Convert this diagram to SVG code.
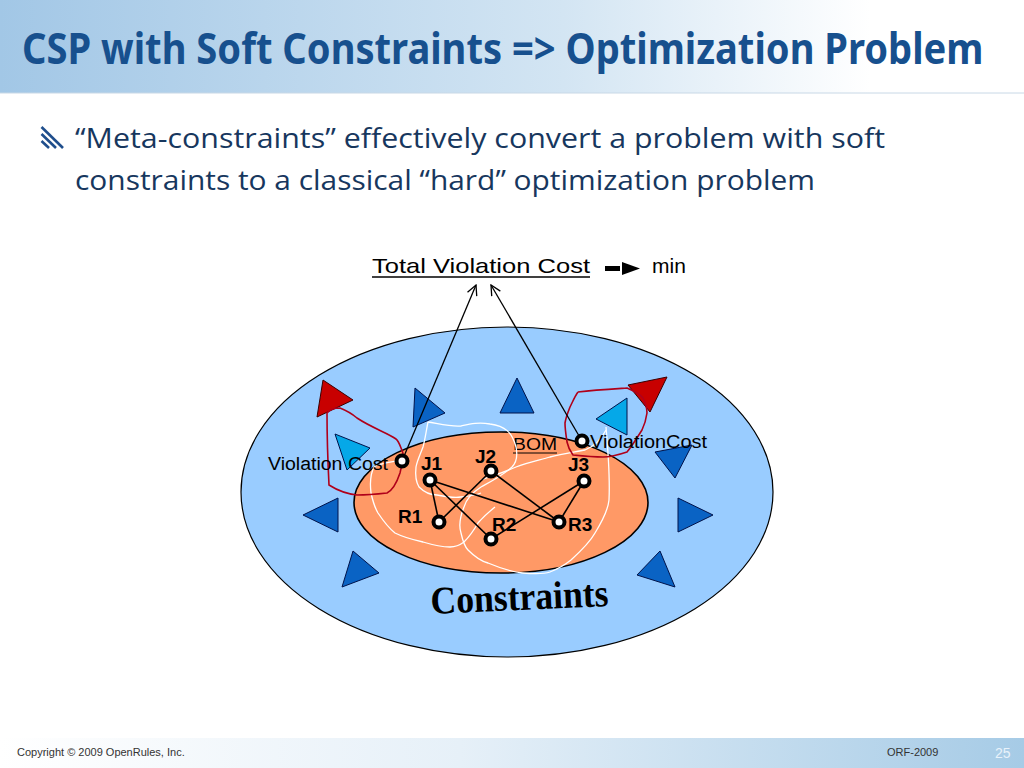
<svg xmlns="http://www.w3.org/2000/svg" width="1024" height="768" viewBox="0 0 1024 768">
<defs>
<linearGradient id="hdr" x1="0" y1="0" x2="1" y2="0">
<stop offset="0" stop-color="#a2c7e6"/>
<stop offset="0.55" stop-color="#d3e5f3"/>
<stop offset="0.85" stop-color="#ffffff"/>
</linearGradient>
<linearGradient id="ftr" x1="0" y1="0" x2="1" y2="0">
<stop offset="0" stop-color="#ffffff"/>
<stop offset="0.45" stop-color="#e6f0f8"/>
<stop offset="1" stop-color="#a6cbe6"/>
</linearGradient>
<marker id="open" viewBox="0 0 12 12" refX="11" refY="6" markerWidth="12" markerHeight="12" markerUnits="userSpaceOnUse" orient="auto">
<polyline points="1,1 11,6 1,11" fill="none" stroke="#000" stroke-width="1.3"/>
</marker>
</defs>
<style>
.dk{fill:#0a63c4;stroke:#00124a;stroke-width:1}
.lt{fill:#05a8e8;stroke:#00124a;stroke-width:1}
.rd{fill:#c80000;stroke:#3a0000;stroke-width:1}
.red{fill:none;stroke:#b0001a;stroke-width:1.6}
.wh{fill:none;stroke:#ffffff;stroke-width:1.3}
.edge{stroke:#000;stroke-width:1.6;fill:none}
.node{fill:#fff;stroke:#000;stroke-width:4}
.lbl{font-family:"Liberation Sans",Arial,sans-serif;font-weight:bold;font-size:19px;fill:#000}
.vc{font-family:"Liberation Sans",Arial,sans-serif;font-size:18px;fill:#000}
.bul{font-family:"Open Sans","Noto Sans",sans-serif;font-size:27px;fill:#17375e}
</style>
<rect width="1024" height="768" fill="#fff"/>
<rect x="0" y="0" width="1024" height="93" fill="url(#hdr)"/>
<line x1="0" y1="93" x2="1024" y2="93" stroke="#c8d8e6" stroke-width="1"/>
<g transform="translate(22,64) scale(0.86,1)">
<text x="0" y="0" font-family="'Noto Sans','Open Sans',sans-serif" font-weight="bold" font-size="43" fill="#17508e" textLength="1118" lengthAdjust="spacingAndGlyphs">CSP with Soft Constraints =&gt; Optimization Problem</text>
</g>
<g id="bullet" stroke="#1f4e8c" stroke-width="2.6" stroke-linecap="butt">
<line x1="41.5" y1="127" x2="63" y2="148"/>
<line x1="41.5" y1="134" x2="56" y2="148"/>
<line x1="41.5" y1="141" x2="49" y2="148"/>
</g>
<text class="bul" x="75" y="148" textLength="810" lengthAdjust="spacingAndGlyphs">“Meta-constraints” effectively convert a problem with soft</text>
<text class="bul" x="75" y="190" textLength="740" lengthAdjust="spacingAndGlyphs">constraints to a classical “hard” optimization problem</text>
<g id="total">
<text x="372" y="273" font-family="'Liberation Sans',Arial,sans-serif" font-size="21" fill="#000" textLength="218" lengthAdjust="spacingAndGlyphs">Total Violation Cost</text>
<line x1="372" y1="277" x2="590" y2="277" stroke="#000" stroke-width="1.3"/>
<rect x="605" y="266" width="15" height="5" fill="#000"/>
<polygon points="622,262 640,268.5 622,275" fill="#000"/>
<text x="652" y="273" font-family="'Liberation Sans',Arial,sans-serif" font-size="21" fill="#000">min</text>
</g>
<g id="constraints-region">
<ellipse cx="507" cy="492" rx="266" ry="165" fill="#99ccff" stroke="#000" stroke-width="1.2"/>
<g transform="translate(520,610) rotate(-2.5)">
<text x="0" y="0" text-anchor="middle" font-family="'Liberation Serif','Times New Roman',serif" font-weight="bold" font-size="39" fill="#000" textLength="178" lengthAdjust="spacingAndGlyphs">Constraints</text>
</g>
</g>
<g id="triangles">
<polygon class="rd" points="323,380 353,400 317,417"/>
<polygon class="lt" points="335,434 370,448 347,470"/>
<polygon class="dk" points="415,388 445,413 413,427"/>
<polygon class="dk" points="517,378 500,413 534,413"/>
<polygon class="rd" points="628,385 667,377 650,412"/>
<polygon class="lt" points="596,419 627,398 627,435"/>
<polygon class="dk" points="655,452 692,445 675,478"/>
<polygon class="dk" points="303,515 338,498 338,532"/>
<polygon class="dk" points="678,498 713,515 678,532"/>
<polygon class="dk" points="353,551 379,573 342,587"/>
<polygon class="dk" points="660,551 675,587 637,575"/>
</g>
<g id="bom">
<ellipse cx="501" cy="502.5" rx="147" ry="70.5" fill="#ff9966" stroke="#000" stroke-width="1.6"/>
<text x="513" y="450" font-family="'Liberation Sans',Arial,sans-serif" font-size="17" fill="#000" textLength="44" lengthAdjust="spacingAndGlyphs">BOM</text>
<line x1="513" y1="453" x2="557" y2="453" stroke="#000" stroke-width="1"/>
</g>
<g id="white-paths">
<path class="wh" d="M428,422 C440,424 452,427 461,426 C470,424 478,422 490,424 C505,426 512,432 516,447 C518,457 516,463 512,467 C502,476 490,482 481,487 C470,494 466,500 464,507 C460,517 459,527 461,533 C463,542 466,548 468,550 C474,556 480,561 488,563 C500,568 512,572 523,573 C535,574 544,574 550,572 C560,568 566,564 571,560 C582,550 590,542 595,533 C603,520 608,510 609,500 C610,480 608,450 606,427"/>
<path class="wh" d="M428,422 C426,432 425,440 423,447 C420,455 417,461 416,467 C415,476 416,482 419,487 C425,493 431,495 437,495 C447,497 455,498 461,497 C470,496 476,495 481,493"/>
<path class="wh" d="M402,460 C392,462 380,463 374,467 C370,475 370,485 371,493 C373,502 375,508 378,513 C384,522 390,529 395,533 C405,538 414,540 423,542 C433,545 443,547 450,547 C456,547 460,545 464,542 C470,536 474,530 478,523 C484,516 490,511 495,507"/>
<path class="wh" d="M481,480 C492,476 505,472 516,467 C528,462 540,460 550,457 C562,454 575,452 585,450 C595,446 602,438 606,430"/>
</g>
<g id="red-paths">
<path class="red" d="M403,453 C400,446 399,441 396,439 C388,433 372,428 357,418 C350,412 345,410 340,408 C334,408 330,409 327,413 C327,440 328,465 329,485 C340,492 348,494 357,495 C368,495 378,494 387,493 C393,490 397,482 400,473 C402,466 403,459 403,453"/>
<path class="red" d="M578,392 C595,390 612,389 627,388 C634,391 640,394 643,398 C646,404 647,409 647,413 C646,420 644,426 642,430 C637,438 632,446 627,452 C618,455 610,457 603,457 C593,457 583,456 573,455 C570,451 568,447 567,442 C566,435 565,429 565,423 C566,417 568,412 570,407 C573,401 575,396 578,392"/>
</g>
<g id="connectors">
<line class="edge" x1="430" y1="480" x2="439" y2="522"/>
<line class="edge" x1="430" y1="480" x2="491" y2="539"/>
<line class="edge" x1="430" y1="480" x2="559" y2="522"/>
<line class="edge" x1="491" y1="471" x2="439" y2="522"/>
<line class="edge" x1="491" y1="471" x2="559" y2="522"/>
<line class="edge" x1="584" y1="481" x2="491" y2="539"/>
<line class="edge" x1="584" y1="481" x2="559" y2="522"/>
<line x1="402" y1="461" x2="476" y2="285" stroke="#000" stroke-width="1.3" marker-end="url(#open)"/>
<line x1="582" y1="441" x2="491" y2="285" stroke="#000" stroke-width="1.3" marker-end="url(#open)"/>
</g>
<g id="vc-left">
<circle class="node" cx="402" cy="461" r="5.5"/>
<text class="vc" x="268" y="470" textLength="120" lengthAdjust="spacingAndGlyphs">Violation Cost</text>
</g>
<g id="vc-right">
<circle class="node" cx="582" cy="441" r="5.5"/>
<text class="vc" x="590" y="448" textLength="117" lengthAdjust="spacingAndGlyphs">ViolationCost</text>
</g>
<g id="J1"><circle class="node" cx="430" cy="480" r="5.5"/><text class="lbl" x="421" y="470">J1</text></g>
<g id="J2"><circle class="node" cx="491" cy="471" r="5.5"/><text class="lbl" x="475" y="463">J2</text></g>
<g id="J3"><circle class="node" cx="584" cy="481" r="5.5"/><text class="lbl" x="568" y="471">J3</text></g>
<g id="R1"><circle class="node" cx="439" cy="522" r="5.5"/><text class="lbl" x="398" y="523">R1</text></g>
<g id="R2"><circle class="node" cx="491" cy="539" r="5.5"/><text class="lbl" x="492" y="531">R2</text></g>
<g id="R3"><circle class="node" cx="559" cy="522" r="5.5"/><text class="lbl" x="568" y="531">R3</text></g>
<g id="footer">
<rect x="0" y="738" width="1024" height="30" fill="url(#ftr)"/>
<text x="17" y="756" font-family="'Liberation Sans',Arial,sans-serif" font-size="11" fill="#333">Copyright © 2009 OpenRules, Inc.</text>
<text x="887" y="756" font-family="'Liberation Sans',Arial,sans-serif" font-size="11" fill="#333">ORF-2009</text>
<text x="995" y="758" font-family="'Liberation Sans',Arial,sans-serif" font-size="14" fill="#e8f2fa">25</text>
</g>
</svg>
